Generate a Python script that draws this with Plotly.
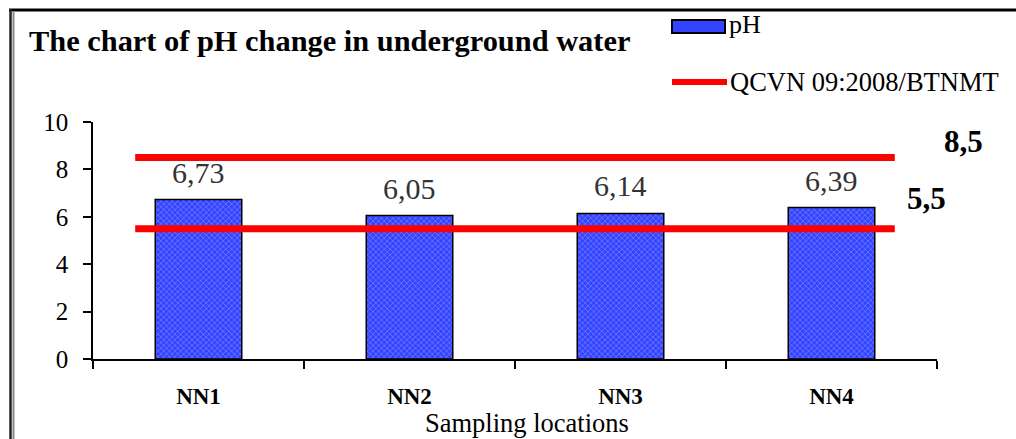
import plotly.graph_objects as go

categories = ["NN1", "NN2", "NN3", "NN4"]
ph_values = [6.73, 6.05, 6.14, 6.39]
value_labels = ["6,73", "6,05", "6,14", "6,39"]
limit_low = 5.5
limit_high = 8.5
limit_labels = ["5,5", "8,5"]
limit_x = [-0.3, 3.3]
y_ticks = [0, 2, 4, 6, 8, 10]

W, H = 1016, 439
ML, MR, MT, MB = 93, 79, 122, 80
PW, PH = W - ML - MR, H - MT - MB
FONT = "Times New Roman, Liberation Serif, DejaVu Serif, serif"


def px(x):
    return (x - ML) / PW


def py(y):
    return 1 - (y - MT) / PH


xs = list(range(len(categories)))

fig = go.Figure()
fig.add_trace(go.Bar(
    x=xs, y=ph_values, name="pH", width=0.41,
    marker=dict(color="#3343ff", line=dict(color="black", width=1.5),
                pattern=dict(shape="x", fgcolor="#aab4ff", size=4, solidity=0.35)),
    showlegend=False,
))
for lim in (limit_high, limit_low):
    fig.add_trace(go.Scatter(
        x=limit_x, y=[lim, lim], mode="lines", name="QCVN 09:2008/BTNMT",
        line=dict(color="#ff0000", width=7), showlegend=False,
    ))

ann = []
for xi, v, t in zip(xs, ph_values, value_labels):
    ann.append(dict(x=xi, y=v, text=t, showarrow=False, yanchor="bottom", yshift=9,
                    font=dict(family=FONT, size=30, color="#333333")))
ann.append(dict(x=limit_x[1], y=limit_high, text="<b>" + limit_labels[1] + "</b>", showarrow=False,
                xshift=69, yshift=16, font=dict(family=FONT, size=31, color="black")))
ann.append(dict(x=limit_x[1], y=limit_low, text="<b>" + limit_labels[0] + "</b>", showarrow=False,
                xshift=32, yshift=30, font=dict(family=FONT, size=31, color="black")))
# title
ann.append(dict(xref="paper", yref="paper", x=px(27), y=py(41), xanchor="left", yanchor="middle",
                text="<b>The chart of pH change in underground water</b>", showarrow=False,
                font=dict(family=FONT, size=30.4, color="black")))
# axis title
ann.append(dict(xref="paper", yref="paper", x=px(527), y=py(423), xanchor="center", yanchor="middle",
                text="Sampling locations", showarrow=False,
                font=dict(family=FONT, size=26.5, color="black")))
# legend texts
ann.append(dict(xref="paper", yref="paper", x=px(727), y=py(25), xanchor="left", yanchor="middle",
                text="pH", showarrow=False, font=dict(family=FONT, size=26, color="black")))
ann.append(dict(xref="paper", yref="paper", x=px(728), y=py(82), xanchor="left", yanchor="middle",
                text="QCVN 09:2008/BTNMT", showarrow=False, font=dict(family=FONT, size=26.5, color="black")))

shapes = [
    # legend swatch
    dict(type="rect", xref="paper", yref="paper", x0=px(672), x1=px(725), y0=py(20), y1=py(33),
         fillcolor="#3343ff", line=dict(color="black", width=2)),
    dict(type="line", xref="paper", yref="paper", x0=px(672), x1=px(727), y0=py(82), y1=py(82),
         line=dict(color="#ff0000", width=6)),
    # page border
    dict(type="line", xref="paper", yref="paper", x0=px(9), x1=px(1030), y0=py(10), y1=py(10),
         line=dict(color="black", width=3)),
    dict(type="line", xref="paper", yref="paper", x0=px(10.5), x1=px(10.5), y0=py(9), y1=py(460),
         line=dict(color="#222222", width=2.5)),
    dict(type="line", xref="paper", yref="paper", x0=px(13.5), x1=px(13.5), y0=py(11), y1=py(460),
         line=dict(color="#888888", width=2)),
]

fig.update_layout(
    width=W, height=H,
    margin=dict(l=ML, r=MR, t=MT, b=MB),
    paper_bgcolor="white", plot_bgcolor="white",
    showlegend=False,
    annotations=ann, shapes=shapes,
    font=dict(family=FONT, color="black"),
    xaxis=dict(range=[-0.5, 3.5], tickmode="array", tickvals=xs,
               ticktext=["<b>" + c + "</b>" for c in categories],
               ticks="", showline=True, linecolor="black", linewidth=1.5,
               showgrid=False, zeroline=False, ticklabelstandoff=16,
               tickfont=dict(family=FONT, size=23, color="black"),
               minor=dict(tick0=-0.5, dtick=1, ticks="outside", ticklen=8,
                          tickcolor="black", tickwidth=1.5, showgrid=False)),
    yaxis=dict(range=[0, 10], tickmode="array", tickvals=y_ticks,
               ticks="outside", ticklen=8, tickwidth=1.5, tickcolor="black",
               showline=True, linecolor="black", linewidth=1.5,
               showgrid=False, zeroline=False, ticklabelstandoff=10,
               tickfont=dict(family=FONT, size=25, color="black")),
)

fig.write_html("out.html")
